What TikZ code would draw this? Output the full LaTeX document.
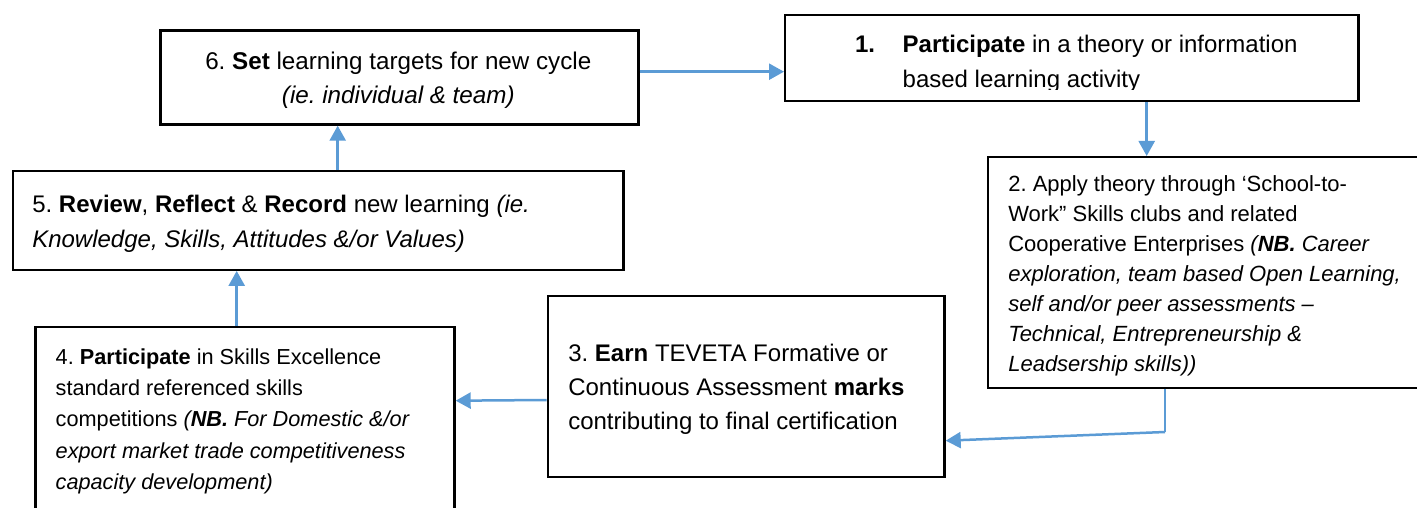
\documentclass[tikz,border=0pt]{standalone}
\usepackage{fontspec}
\setmainfont{Liberation Sans}
\usetikzlibrary{arrows.meta}
\definecolor{arrowblue}{HTML}{5B9BD5}
\frenchspacing
\tikzset{
  stepbox/.style={draw=black, line width=2.4pt, rectangle, inner sep=0pt, anchor=north west},
  steptext/.style={inner sep=0pt, outer sep=0pt, align=left, anchor=base west},
  flow/.style={draw=arrowblue, line width=2.5pt, -{Triangle[length=15pt,width=16pt]}},
  flowthin/.style={draw=arrowblue, line width=1.4pt}
}
\begin{document}
\begin{tikzpicture}[x=1pt,y=-1pt]
\useasboundingbox (0,0) rectangle (1417,508);
% boxes
\node[stepbox, minimum width=478pt, minimum height=94pt] (b6) at (159.3,29.3) {};
\node[stepbox, minimum width=573.3pt, minimum height=86pt] (b1) at (784,14) {};
\node[stepbox, minimum width=443pt, minimum height=230.5pt] (b2) at (986.7,156) {};
\node[stepbox, minimum width=396.6pt, minimum height=181.2pt] (b3) at (546.7,294.5) {};
\node[stepbox, minimum width=419pt, minimum height=194pt] (b4) at (34.3,326) {};
\node[stepbox, minimum width=610.6pt, minimum height=98.5pt] (b5) at (11.7,170) {};
% texts (anchor = baseline of the last line)
\node[steptext, align=center, anchor=base, font=\fontsize{24.2}{34}\selectfont] (t6) at (398.3,103.3)
  {6. \textbf{Set} learning targets for new cycle\\\textit{(ie. individual \& team)}};
\begin{scope}
\clip (784,14) rectangle (1357,89.3);
\node[steptext, font=\fontsize{24}{34.6}\selectfont] (t1) at (855,87.3)
  {\makebox[47.7pt][l]{\bfseries 1.}\textbf{Participate} in a theory or information\\\hspace*{47.7pt}based learning activity};
\end{scope}
\begin{scope}
\clip (986.7,156) rectangle (1417,375);
\node[steptext, font=\fontsize{22}{30}\selectfont] (t2) at (1008.3,371.7)
  {2. Apply theory through ‘School-to-\\
   Work” Skills clubs and related\\
   Cooperative Enterprises \textit{(\textbf{NB.} Career}\\
   \textit{exploration, team based Open Learning,}\\
   \textit{self and/or peer assessments –}\\
   \textit{Technical, Entrepreneurship \&}\\
   \textit{Leadsership skills))}};
\end{scope}
\node[steptext, font=\fontsize{24}{33.7}\selectfont] (t3) at (568.3,429.1)
  {3. \textbf{Earn} TEVETA Formative or\\
   Continuous Assessment \textbf{marks}\\
   contributing to final certification};
\node[steptext, font=\fontsize{21.7}{31.25}\selectfont] (t4) at (55.7,489.3)
  {4. \textbf{Participate} in Skills Excellence\\
   standard referenced skills\\
   competitions \textit{(\textbf{NB.} For Domestic \&/or}\\
   \textit{export market trade competitiveness}\\
   \textit{capacity development)}};
\node[steptext, font=\fontsize{24}{35}\selectfont] (t5) at (32.3,247.7)
  {5. \textbf{Review}, \textbf{Reflect} \& \textbf{Record} new learning \textit{(ie.}\\
   \textit{Knowledge, Skills, Attitudes \&/or Values)}};
% connectors
\draw[flow] ([yshift=-42.4pt]b6.north east) -- ([yshift=-57.7pt]b1.north west);
\draw[flow] ([xshift=362.7pt]b1.south west) -- ([xshift=160pt]b2.north west);
\coordinate (bend) at (1165,432);
\draw[flowthin] ([xshift=178.3pt]b2.south west) -- (bend);
\draw[flow] (bend) -- ([yshift=-146.2pt]b3.north east);
\draw[flow] ([yshift=-105.5pt]b3.north west) -- ([yshift=-74.7pt]b4.north east);
\draw[flow] ([xshift=202.4pt]b4.north west) -- ([xshift=225pt]b5.south west);
\draw[flow] ([xshift=326pt]b5.north west) -- ([xshift=178.4pt]b6.south west);
\end{tikzpicture}
\end{document}
